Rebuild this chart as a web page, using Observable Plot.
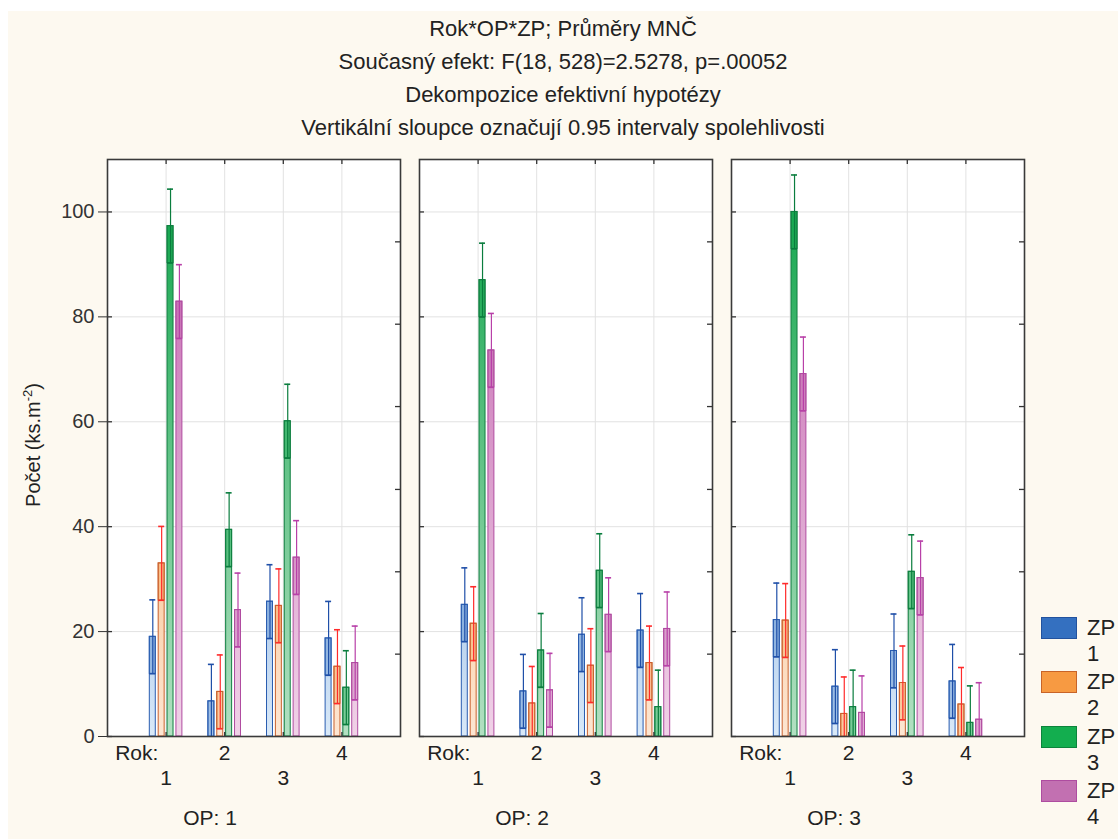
<!DOCTYPE html>
<html>
<head>
<meta charset="utf-8">
<script src="https://cdn.jsdelivr.net/npm/d3@7"></script>
<script src="https://cdn.jsdelivr.net/npm/@observablehq/plot@0.6"></script>
<style>
  body { margin: 0; background: #fff; font-family: "Liberation Sans", Arial, sans-serif; color: #222; }
  #page { position: relative; width: 1118px; height: 839px; overflow: hidden; background: #fff; }
  #cream { position: absolute; left: 8px; top: 11px; width: 1110px; height: 828px; background: #fdf9f0; }
  #title { height: 129px; padding-top: 1px; box-sizing: border-box; text-align: center; font-size: 22px; line-height: 33px; color: #222; }
  #title div { height: 33px; white-space: nowrap; }
  #chart { position: absolute; left: 0; top: 129px; }
  #ylabel { position: absolute; left: 25px; top: 434px; transform: translate(-50%, -50%) rotate(-90deg); white-space: nowrap; font-size: 20px; line-height: 24px; }
  #ylabel sup { font-size: 13px; line-height: 0; }
  .lg-sw { position: absolute; width: 34px; height: 20px; border: 1px solid; }
  .lg-tx { position: absolute; font-size: 22px; line-height: 26px; }
</style>
</head>
<body>
<div id="page">
  <div id="cream">
    <div id="title"></div>
    <div id="chart"></div>
    <div id="ylabel">Počet (ks.m<sup>-2</sup>)</div>
    <div id="legend"></div>
  </div>
</div>
<script>
// ---------------- data ----------------
const titleLines = [
  "Rok*OP*ZP; Průměry MNČ",
  "Současný efekt: F(18, 528)=2.5278, p=.00052",
  "Dekompozice efektivní hypotézy",
  "Vertikální sloupce označují 0.95 intervaly spolehlivosti"
];
const years = [1, 2, 3, 4];          // Rok
const opLevels = [1, 2, 3];          // OP (panels)
const zpLevels = [1, 2, 3, 4];       // ZP (series)
const zpNames = ["ZP\n1", "ZP\n2", "ZP\n3", "ZP\n4"];
// means, ordered OP1 Rok1..4, OP2 Rok1..4, OP3 Rok1..4
const meanZP1 = [19.0, 6.7, 25.7, 18.7,  25.1, 8.6, 19.4, 20.2,  22.2, 9.5, 16.3, 10.5];
const meanZP2 = [33.0, 8.5, 24.9, 13.3,  21.5, 6.3, 13.5, 14.0,  22.1, 4.3, 10.2, 6.1];
const meanZP3 = [97.3, 39.4, 60.1, 9.3,  87.0, 16.4, 31.6, 5.6,  100.0, 5.6, 31.4, 2.6];
const meanZP4 = [82.9, 24.1, 34.1, 14.0, 73.6, 8.8, 23.2, 20.5,  69.1, 4.5, 30.2, 3.2];
const ciHalfWidth = 7.05;            // 0.95 confidence half-width
const yTicks = [0, 20, 40, 60, 80, 100];
const rightTicks = [15.7, 31.4, 47.1, 62.9, 78.6, 94.3];
const yLabelText = "Počet (ks.m-2)";
const rokLabel = "Rok:";

// ---------------- styles ----------------
const deep    = ["#3d78c6", "#f59a4a", "#18a851", "#c468b0"];
const pale    = ["#d9e9f8", "#fde6d2", "#b3e0c2", "#f0d2e7"];
const strokeC = ["#2a5db0", "#c8602c", "#0f7f40", "#b04ca0"];
const whisk   = ["#1f4fa8", "#ff2a2a", "#0a7d3e", "#b840a8"];
const legFill = ["#3470c0", "#f79a42", "#13ae4f", "#c270b1"];
const legStroke = ["#22529e", "#c86428", "#0c843c", "#ae4ca0"];

// ---------------- title ----------------
const titleEl = document.getElementById("title");
titleLines.forEach(t => { const d = document.createElement("div"); d.textContent = t; titleEl.appendChild(d); });

// ---------------- rows ----------------
const means = [meanZP1, meanZP2, meanZP3, meanZP4];
const pxPerX = 294 / 5, pxPerY = 577 / 110;
const pitch = 8.9 / pxPerX, halfW = 3.0 / pxPerX;
const series = zpLevels.map((zp, zi) => {
  const rows = [];
  opLevels.forEach((op, oi) => years.forEach((rok, ri) => {
    const m = means[zi][oi * years.length + ri];
    const c = rok + (zi - 1.5) * pitch;
    rows.push({op, rok, zp, mean: m, lo: m - ciHalfWidth, hi: m + ciHalfWidth, c, x1: c - halfW, x2: c + halfW});
  }));
  return rows;
});

const marks = [
  Plot.frame({fill: "white"}),
  Plot.ruleY(yTicks.filter(d => d > 0), {y: d => d, stroke: "#e2e2e2", strokeWidth: 1}),
  Plot.ruleX(years, {x: d => d, stroke: "#e2e2e2", strokeWidth: 1})
];
series.forEach((rows, zi) => {
  marks.push(
    Plot.rectY(rows, {fx: "op", x1: "x1", x2: "x2", y1: 0, y2: "mean", fill: `url(#zpgrad${zi})`, stroke: strokeC[zi], strokeWidth: 1}),
    Plot.rectY(rows, {fx: "op", x1: "x1", x2: "x2", y1: "lo", y2: "mean", fill: deep[zi], fillOpacity: 0.35, stroke: strokeC[zi], strokeWidth: 1, clip: true}),
    Plot.ruleX(rows, {fx: "op", x: "c", y1: "lo", y2: "hi", stroke: whisk[zi], strokeWidth: 1.2, clip: true}),
    Plot.ruleY(rows, {fx: "op", y: "hi", x1: "x1", x2: "x2", stroke: whisk[zi], strokeWidth: 1.6}),
    Plot.ruleY(rows, {fx: "op", y: "lo", x1: "x1", x2: "x2", stroke: whisk[zi], strokeWidth: 1.4, clip: true})
  );
});
// inner ticks
const tx = 5 / pxPerX, ty = 5 / pxPerY;
marks.push(
  Plot.ruleY(yTicks, {y: d => d, x1: 0, x2: tx, stroke: "#333", strokeWidth: 1.3}),
  Plot.ruleY(rightTicks, {y: d => d, x1: 5 - tx, x2: 5, stroke: "#333", strokeWidth: 1.3}),
  Plot.ruleX(years, {x: d => d, y1: 110 - ty, y2: 110, stroke: "#333", strokeWidth: 1.3}),
  Plot.ruleX(years, {x: d => d, y1: 0, y2: 0.8 * ty, stroke: "#333", strokeWidth: 1.3}),
  Plot.frame({stroke: "#3a3a3a", strokeWidth: 1.6}),
  Plot.text([rokLabel], {x: () => 0.5, text: d => d, frameAnchor: "bottom", dy: 23, fontSize: 21, fill: "#222"}),
  Plot.text(years.filter(d => d % 2 === 0), {x: d => d, text: d => String(d), frameAnchor: "bottom", dy: 23, fontSize: 21, fill: "#222"}),
  Plot.text(years.filter(d => d % 2 === 1), {x: d => d, text: d => String(d), frameAnchor: "bottom", dy: 48, fontSize: 21, fill: "#222"}),
  Plot.text(opLevels, {fx: d => d, x: () => 1.75, text: d => `OP: ${d}`, frameAnchor: "bottom", dy: 88, fontSize: 21, fill: "#222"})
);

const chart = Plot.plot({
  width: 1110,
  height: 699,
  marginLeft: 98,
  marginRight: 93,
  marginTop: 19,
  marginBottom: 103,
  style: {background: "transparent", fontSize: "20px", fontFamily: "'Liberation Sans', Arial, sans-serif", color: "#333"},
  fx: {domain: opLevels, paddingInner: 0.06, paddingOuter: 0, axis: null, label: null},
  x: {domain: [0, 5], axis: null},
  y: {domain: [0, 110], ticks: yTicks, tickSize: 9, tickPadding: 4, label: null},
  marks
});

// gradient definitions (pale at 0, deep toward 100)
const ns = "http://www.w3.org/2000/svg";
const ys = chart.scale("y");
const defs = document.createElementNS(ns, "defs");
zpLevels.forEach((z, zi) => {
  const lg = document.createElementNS(ns, "linearGradient");
  lg.setAttribute("id", `zpgrad${zi}`);
  lg.setAttribute("gradientUnits", "userSpaceOnUse");
  lg.setAttribute("x1", 0); lg.setAttribute("x2", 0);
  lg.setAttribute("y1", ys.apply(0)); lg.setAttribute("y2", ys.apply(100));
  [[0, pale[zi]], [1, deep[zi]]].forEach(([o, c]) => {
    const s = document.createElementNS(ns, "stop");
    s.setAttribute("offset", o); s.setAttribute("stop-color", c);
    lg.appendChild(s);
  });
  defs.appendChild(lg);
});
chart.insertBefore(defs, chart.firstChild);
document.getElementById("chart").appendChild(chart);

// legend
const leg = document.getElementById("legend");
zpLevels.forEach((z, zi) => {
  const top = 604 + zi * 54.3;
  const sw = document.createElement("div");
  sw.className = "lg-sw";
  sw.style.left = "1033px"; sw.style.top = (top + 2) + "px";
  sw.style.background = legFill[zi]; sw.style.borderColor = legStroke[zi];
  leg.appendChild(sw);
  const t = document.createElement("div");
  t.className = "lg-tx";
  t.style.left = "1079px"; t.style.top = top + "px";
  t.innerHTML = zpNames[zi].replace("\n", "<br>");
  leg.appendChild(t);
});
</script>
</body>
</html>
